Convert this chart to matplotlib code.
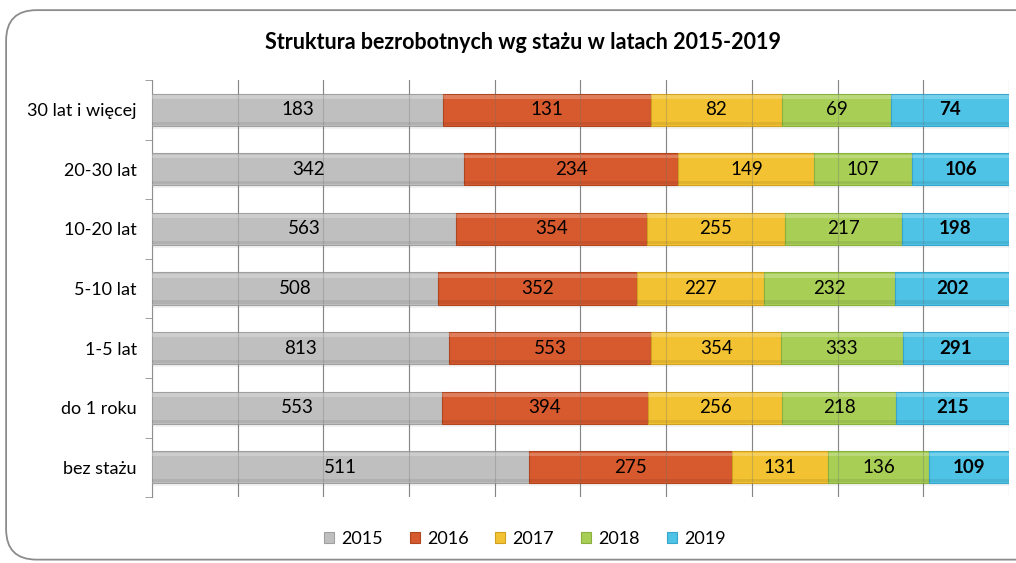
import numpy as np
import matplotlib
matplotlib.use("Agg")
import matplotlib.pyplot as plt
from matplotlib.patches import FancyBboxPatch

plt.rcParams['font.family'] = ['Lato', 'DejaVu Sans']

categories = ["bez stażu", "do 1 roku", "1-5 lat", "5-10 lat",
              "10-20 lat", "20-30 lat", "30 lat i więcej"]
years = ["2015", "2016", "2017", "2018", "2019"]
v2015 = [511, 553, 813, 508, 563, 342, 183]
v2016 = [275, 394, 553, 352, 354, 234, 131]
v2017 = [131, 256, 354, 227, 255, 149, 82]
v2018 = [136, 218, 333, 232, 217, 107, 69]
v2019 = [109, 215, 291, 202, 198, 106, 74]
colors = ["#BFBFBF", "#D65A2E", "#F2C232", "#A8CE56", "#4FC3E6"]
dark = ["#A0A0A0", "#B0461F", "#D0A020", "#8AB03E", "#38A6CC"]


def main():
    data = np.array([v2015, v2016, v2017, v2018, v2019], dtype=float)
    totals = data.sum(axis=0)
    shares = data / totals * 100

    fig = plt.figure(figsize=(10.16, 5.63), dpi=100)
    fig.patch.set_facecolor("white")

    # rounded chart frame
    frame = FancyBboxPatch((0.006, 0.006), 1.05, 0.976,
                           boxstyle="round,pad=0,rounding_size=0.03",
                           transform=fig.transFigure, facecolor="none",
                           edgecolor="#8C8C8C", lw=1.3, zorder=-1,
                           mutation_aspect=1016 / 563)
    fig.patches.append(frame)

    ax = fig.add_axes([0.1496, 0.117, 0.8435, 0.741])
    ax.set_facecolor("none")
    y = np.arange(len(categories))
    h = 0.54

    left = np.zeros(len(categories))
    for i, yr in enumerate(years):
        w = shares[i]
        # soft shadow
        ax.barh(y - 0.05, w, h, left=left, color="#000000", alpha=0.05,
                lw=0, zorder=2)
        ax.barh(y, w, h, left=left, color=colors[i], edgecolor=dark[i],
                lw=0.8, label=yr, zorder=3)
        # bevel: lighter strip on top, darker strip at bottom
        ax.barh(y + h * 0.40, w, h * 0.12, left=left, color="white",
                alpha=0.22, lw=0, zorder=4)
        ax.barh(y - h * 0.42, w, h * 0.10, left=left, color="black",
                alpha=0.08, lw=0, zorder=4)
        for j in range(len(categories)):
            ax.text(left[j] + w[j] / 2, y[j], f"{int(data[i, j])}",
                    ha="center", va="center", fontsize=13.5,
                    color="black", zorder=6,
                    fontweight="bold" if i == 4 else "normal")
        left = left + w

    ax.set_xlim(0, 100)
    ax.set_ylim(-0.5, len(categories) - 0.5)
    ax.set_xticks(np.arange(0, 101, 10))
    ax.set_xticklabels([])
    ax.tick_params(axis="x", length=0)
    ax.grid(axis="x", color="#8F8F8F", lw=0.8, zorder=1)
    ax.set_axisbelow(True)
    # gridlines faintly visible through the bars
    ax.vlines(np.arange(10, 100, 10), -0.5, len(categories) - 0.5,
              color="#6F6F6F", lw=0.8, alpha=0.3, zorder=5)

    ax.set_yticks(y)
    ax.set_yticklabels(categories, fontsize=13)
    ax.tick_params(axis="y", which="major", length=0, pad=11)
    ax.set_yticks(np.arange(-0.5, len(categories), 1), minor=True)
    ax.tick_params(axis="y", which="minor", length=5, color="#8F8F8F",
                   direction="out")

    for s in ["top", "right", "bottom"]:
        ax.spines[s].set_visible(False)
    ax.spines["left"].set_color("#8F8F8F")
    ax.spines["left"].set_linewidth(0.8)

    fig.text(0.515, 0.925, "Struktura bezrobotnych wg stażu w latach 2015-2019",
             ha="center", va="center", fontsize=15.5, fontweight="bold")

    ax.legend(loc="center", bbox_to_anchor=(0.435, -0.1), ncol=5,
              frameon=False, fontsize=13, handlelength=0.55,
              handleheight=0.55, handletextpad=0.4, columnspacing=1.5)
    fig.savefig("out.png", dpi=100)


if __name__ == "__main__":
    main()
